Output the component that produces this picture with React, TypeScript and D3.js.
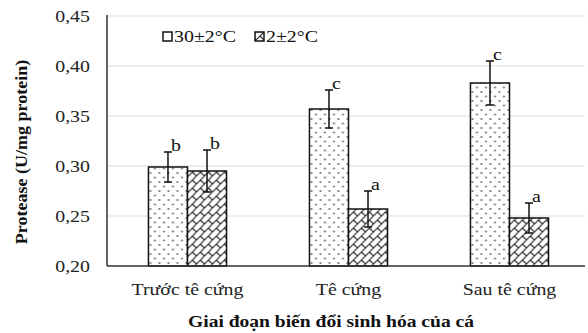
import React from 'react';
import * as d3 from 'd3';

const stages = ['Trước tê cứng', 'Tê cứng', 'Sau tê cứng'];
const seriesNames = ['30±2°C', '2±2°C'];
const warmValues = [0.299, 0.357, 0.383];
const warmErrors = [0.015, 0.019, 0.022];
const coldValues = [0.295, 0.257, 0.248];
const coldErrors = [0.021, 0.018, 0.015];
const warmLetters = ['b', 'c', 'c'];
const coldLetters = ['b', 'a', 'a'];
const yTicks = [0.2, 0.25, 0.3, 0.35, 0.4, 0.45];

const W = 588;
const H = 333;
const FONT = '"Liberation Serif", "Times New Roman", serif';
const SX = 1.17; // the reference text is a little wider than plain Times

const App: React.FC = () => {
  const left = 107;
  const plotRight = 585;

  const y = d3.scaleLinear().domain([0.2, 0.45]).range([266, 16]);
  const x0 = d3.scaleBand<string>()
    .domain(stages)
    .range([left, 590])
    .paddingInner(0.515)
    .paddingOuter(0.2575);
  const x1 = d3.scaleBand<string>()
    .domain(seriesNames)
    .range([0, x0.bandwidth()]);

  const rows = stages.map((s, i) => [
    { key: seriesNames[0], v: warmValues[i], e: warmErrors[i], l: warmLetters[i], fill: 'url(#dots)' },
    { key: seriesNames[1], v: coldValues[i], e: coldErrors[i], l: coldLetters[i], fill: 'url(#shingle)' },
  ]);

  const stretched = (x: number, yy: number) => `translate(${x},${yy}) scale(${SX},1)`;

  return (
    <svg width={W} height={H} style={{ position: 'absolute', left: 0, top: 0, background: '#fff' }}
      fontFamily={FONT}>
      <defs>
        <pattern id="dots" width="9" height="9" patternUnits="userSpaceOnUse">
          <rect width="9" height="9" fill="#fff" />
          <circle cx="2" cy="2" r="0.9" fill="#555" />
          <circle cx="6.5" cy="6.5" r="0.9" fill="#555" />
        </pattern>
        <pattern id="shingle" width="8" height="8" patternUnits="userSpaceOnUse">
          <rect width="8" height="8" fill="#fff" />
          <path d="M-1,9 L9,-1 M-1,1 L1,-1 M7,9 L9,7 M4,4 L8,8" stroke="#222" strokeWidth="1.1" fill="none" />
        </pattern>
      </defs>

      {/* gridlines */}
      {yTicks.slice(1).map(t => (
        <line key={t} x1={left} x2={plotRight} y1={y(t)} y2={y(t)} stroke="#dcdcdc" strokeWidth={1} />
      ))}

      {/* y tick labels */}
      {yTicks.map(t => (
        <text key={t} transform={stretched(90, y(t) + 6)} textAnchor="end" fontSize={17} fill="#222">
          {d3.format('.2f')(t).replace('.', ',')}
        </text>
      ))}

      {/* bars */}
      {rows.map((grp, i) => (
        <g key={stages[i]} transform={`translate(${x0(stages[i])},0)`}>
          {grp.map(d => {
            const bx = x1(d.key)!;
            const cx = bx + x1.bandwidth() / 2;
            const top = y(d.v);
            const eTop = y(d.v + d.e);
            const eBot = y(d.v - d.e);
            return (
              <g key={d.key}>
                <rect x={bx} y={top} width={x1.bandwidth()} height={y(0.2) - top}
                  fill={d.fill} stroke="#111" strokeWidth={1.5} />
                <line x1={cx} x2={cx} y1={eTop} y2={eBot} stroke="#111" strokeWidth={1.5} />
                <line x1={cx - 4} x2={cx + 4} y1={eTop} y2={eTop} stroke="#111" strokeWidth={1.5} />
                <line x1={cx - 4} x2={cx + 4} y1={eBot} y2={eBot} stroke="#111" strokeWidth={1.5} />
                <text transform={stretched(cx + 3, eTop - 1)} fontSize={17} fill="#111">{d.l}</text>
              </g>
            );
          })}
        </g>
      ))}

      {/* axes */}
      <line x1={left} x2={left} y1={15} y2={266} stroke="#333" strokeWidth={1.5} />
      <line x1={left} x2={plotRight} y1={266} y2={266} stroke="#333" strokeWidth={1.5} />

      {/* x tick labels */}
      {stages.map(s => (
        <text key={s} transform={stretched(x0(s)! + x0.bandwidth() / 2, 295)}
          textAnchor="middle" fontSize={17} fill="#222">{s}</text>
      ))}

      {/* legend */}
      <rect x={163} y={32} width={9} height={9} fill="#fff" stroke="#111" strokeWidth={1.5} />
      <text transform={stretched(174, 42)} fontSize={17} fill="#111">{seriesNames[0]}</text>
      <rect x={255} y={32} width={9} height={9} fill="url(#shingle)" stroke="#111" strokeWidth={1.5} />
      <text transform={stretched(266, 42)} fontSize={17} fill="#111">{seriesNames[1]}</text>

      {/* axis titles */}
      <text transform={`translate(331,327) scale(1.15,1)`} textAnchor="middle" fontSize={17}
        fontWeight="bold" fill="#111">Giai đoạn biến đổi sinh hóa của cá</text>
      <text transform="translate(27,152) rotate(-90) scale(1.06,1)" textAnchor="middle" fontSize={17}
        fontWeight="bold" fill="#111">Protease (U/mg protein)</text>
    </svg>
  );
};

export default App;
